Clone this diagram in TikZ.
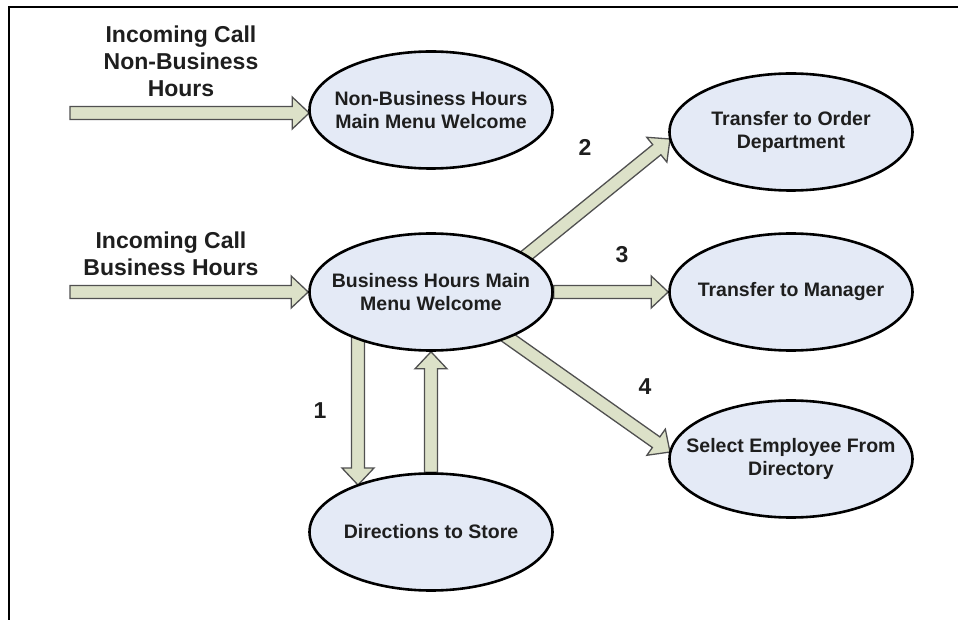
\documentclass[tikz,border=0pt]{standalone}
\usepackage{fontspec}
\setmainfont{Liberation Sans}
\usetikzlibrary{shapes.geometric,calc,backgrounds}
\definecolor{ellfill}{RGB}{228,234,246}
\definecolor{arrfill}{RGB}{220,225,200}
\definecolor{arrline}{RGB}{80,80,80}
\definecolor{txt}{RGB}{30,30,30}
\tikzset{
  ell/.style={ellipse, draw=black, line width=2.6pt, fill=ellfill,
    minimum width=243pt, minimum height=117pt, inner sep=0pt},
  elltext/.style={font=\bfseries\fontsize{19.5}{23.5}\selectfont, text=txt, align=center, inner sep=0pt},
  lbl/.style={font=\bfseries\fontsize{23}{27}\selectfont, text=txt, align=center, inner sep=0pt},
  blockarrow/.style={draw=arrline, line width=1.3pt, fill=arrfill, line join=miter,
    to path={
      ($(\tikztostart)!6.5pt!90:(\tikztotarget)$) --
      ($($(\tikztotarget)!17pt!(\tikztostart)$)!6.5pt!90:(\tikztotarget)$) --
      ($($(\tikztotarget)!17pt!(\tikztostart)$)!16pt!90:(\tikztotarget)$) --
      (\tikztotarget) --
      ($($(\tikztotarget)!17pt!(\tikztostart)$)!16pt!-90:(\tikztotarget)$) --
      ($($(\tikztotarget)!17pt!(\tikztostart)$)!6.5pt!-90:(\tikztotarget)$) --
      ($(\tikztostart)!6.5pt!-90:(\tikztotarget)$) -- cycle
    }}
}
\begin{document}
\begin{tikzpicture}[x=1pt,y=-1pt]
\useasboundingbox (0,0) rectangle (959,620);
\draw[line width=2pt] (9,621) -- (9,7) -- (958,7);

% ellipses
\node[ell] (nb)  at (431,110) {};
\node[ell] (bh)  at (431,292) {};
\node[ell] (ord) at (791,132) {};
\node[ell] (mgr) at (791,292) {};
\node[ell] (sel) at (791,459) {};
\node[ell] (dir) at (431,532) {};

\node[elltext] (nbt)  at (nb)  {Non-Business Hours\\Main Menu Welcome};
\node[elltext] (bht)  at (bh)  {Business Hours Main\\Menu Welcome};
\node[elltext] (ordt) at (ord) {Transfer to Order\\Department};
\node[elltext] (mgrt) at (mgr) {Transfer to Manager};
\node[elltext] (selt) at (sel) {Select Employee From\\Directory};
\node[elltext] (dirt) at (dir) {Directions to Store};

% labels
\node[lbl, anchor=north] (lab1) at (181,26) {Incoming Call\\Non-Business\\Hours};
\node[lbl, anchor=north] (lab2) at (171,232) {Incoming Call\\Business Hours};
\node[lbl] (n1) at (320,411) {1};
\node[lbl] (n2) at (585,147) {2};
\node[lbl] (n3) at (622,255) {3};
\node[lbl] (n4) at (645,387) {4};

% arrow end points
\coordinate (i1) at (70,113);
\coordinate (t0) at ($(nb.west)+(1,3)$);
\coordinate (i2) at (70,292);
\coordinate (s1) at ($(bh.center)+(-73,40)$);
\coordinate (t1) at ($(dir.center)+(-73,-47)$);
\coordinate (s2) at ($(bh.center)+(80,-24)$);
\coordinate (t2) at ($(ord.center)+(-121,7)$);
\coordinate (s4) at ($(bh.center)+(59,33)$);
\coordinate (t4) at ($(sel.center)+(-121,-7)$);

\begin{scope}[on background layer]
\path[blockarrow] (i1) to (t0);
\path[blockarrow] (i2) to (bh.west);
\path[blockarrow] (s1) to (t1);
\path[blockarrow] (dir.north) to (bh.south);
\path[blockarrow] (s2) to (t2);
\path[blockarrow] (bh.east) to (mgr.west);
\path[blockarrow] (s4) to (t4);
\end{scope}
\end{tikzpicture}
\end{document}
